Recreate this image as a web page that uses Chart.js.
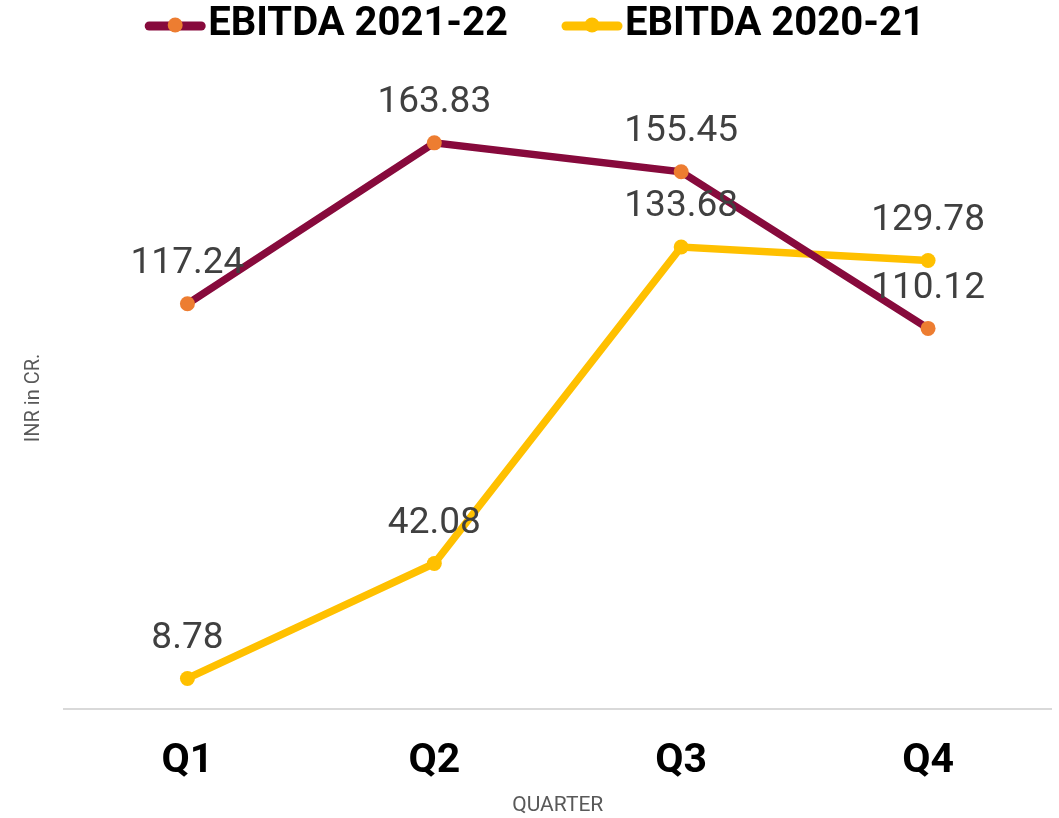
<!DOCTYPE html>
<html>
<head>
<meta charset="utf-8">
<script src="https://cdn.jsdelivr.net/npm/chart.js@4"></script>
<style>
  html, body { margin: 0; padding: 0; background: #ffffff; }
  #wrap { width: 1059px; height: 818px; position: relative; }
</style>
</head>
<body>
<div id="wrap"><canvas id="ebitda"></canvas></div>
<script>

const quarters = ['Q1', 'Q2', 'Q3', 'Q4'];
const ebitda2122 = [117.24, 163.83, 155.45, 110.12];
const ebitda2021 = [8.78, 42.08, 133.68, 129.78];
const seriesNames = ['EBITDA 2021-22', 'EBITDA 2020-21'];

const canvas = document.querySelector('#ebitda');

// étiquettes de valeurs au-dessus des points
const valueLabels = {
    id: 'valueLabels',
    afterDatasetsDraw(chart) {
        const ctx = chart.ctx;
        ctx.save();
        ctx.font = '37px Roboto';
        ctx.fillStyle = '#404040';
        ctx.textAlign = 'center';
        ctx.textBaseline = 'middle';
        chart.data.datasets.forEach((ds, i) => {
            chart.getDatasetMeta(i).data.forEach((pt, j) => {
                ctx.fillText(ds.data[j].toFixed(2), pt.x, pt.y - 40);
            });
        });
        ctx.restore();
    }
};

// légende dessinée à la main (trait + point + texte collé)
const customLegend = {
    id: 'customLegend',
    afterDraw(chart) {
        const ctx = chart.ctx;
        const datasets = chart.data.datasets;
        const markerW = 60;
        const gapText = 3;
        const gapItems = 54;
        const y = 26;
        ctx.save();
        ctx.font = 'bold 40px Roboto';
        const widths = datasets.map(ds => markerW + gapText + ctx.measureText(ds.label).width);
        const total = widths.reduce((a, b) => a + b, 0) + gapItems * (datasets.length - 1);
        let x = 535 - total / 2;
        datasets.forEach((ds, i) => {
            ctx.strokeStyle = ds.borderColor;
            ctx.lineWidth = 9;
            ctx.lineCap = 'round';
            ctx.beginPath();
            ctx.moveTo(x + 4, y);
            ctx.lineTo(x + markerW - 4, y);
            ctx.stroke();
            ctx.fillStyle = ds.pointBackgroundColor;
            ctx.beginPath();
            ctx.arc(x + markerW / 2, y - 1, 7.5, 0, Math.PI * 2);
            ctx.fill();
            ctx.fillStyle = '#000000';
            ctx.textAlign = 'left';
            ctx.textBaseline = 'middle';
            ctx.fillText(ds.label, x + markerW + gapText, y - 1);
            x += widths[i] + gapItems;
        });
        ctx.restore();
    }
};

new Chart(canvas, {

    type: 'line',
    data: {
        labels: quarters,
        datasets: [
            {
                label: seriesNames[0],
                data: ebitda2122,
                borderColor: '#870A3C',
                backgroundColor: '#870A3C',
                pointBackgroundColor: '#ED7D31',
                pointBorderWidth: 0,
                pointRadius: 7.5,
                borderWidth: 7.5,
                tension: 0
            },
            {
                label: seriesNames[1],
                data: ebitda2021,
                borderColor: '#FFC000',
                backgroundColor: '#FFC000',
                pointBackgroundColor: '#FFC000',
                pointBorderWidth: 0,
                pointRadius: 7.5,
                borderWidth: 7.5,
                tension: 0
            }
        ]
    },
    options: {
        responsive: true,
        maintainAspectRatio: false,
        animation: false,
        layout: {
            padding: { left: 18, right: -4, top: 87, bottom: 0 }
        },
        plugins: {
            legend: { display: false },
            tooltip: { enabled: false }
        },
        scales: {
            x: {
                offset: true,
                grid: { display: false },
                border: { display: true, color: '#d9d9d9', width: 2 },
                ticks: {
                    color: '#000000',
                    padding: 24,
                    font: { family: 'Roboto', size: 41, weight: 'bold', lineHeight: 1 }
                },
                title: {
                    display: true,
                    text: 'QUARTER',
                    color: '#595959',
                    padding: { top: -13, bottom: 0 },
                    font: { family: 'Roboto', size: 21 }
                }
            },
            y: {
                min: 0,
                max: 180,
                grid: { display: false },
                border: { display: false },
                ticks: { display: false },
                title: {
                    display: true,
                    text: 'INR in CR.',
                    color: '#595959',
                    padding: { top: 4, bottom: 10 },
                    font: { family: 'Roboto', size: 20 }
                }
            }
        }
    },
    plugins: [valueLabels, customLegend]

});

</script>
</body>
</html>
